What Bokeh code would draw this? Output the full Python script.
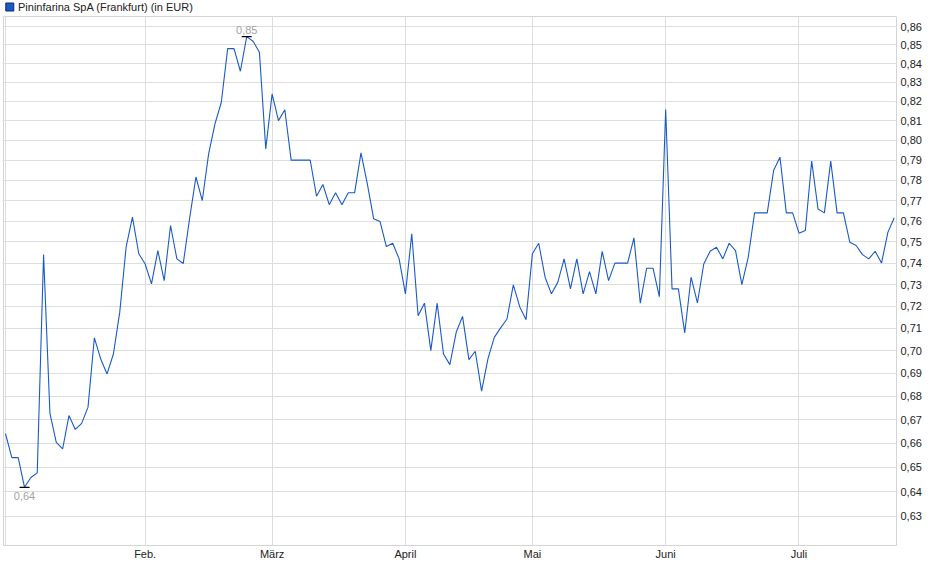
from bokeh.plotting import figure
from bokeh.layouts import column
from bokeh.models import FixedTicker, CustomJSTickFormatter, Range1d
from bokeh.core.properties import value
from bokeh.embed import file_html
from bokeh.resources import INLINE

# Daily closing prices (EUR), trading days from 2 Jan to 22 Jul
prices = [
    0.664, 0.654, 0.654, 0.6418, 0.6458, 0.6477, 0.744, 0.6726, 0.6604, 0.6576,
    0.6717, 0.6658, 0.6684, 0.6753, 0.7057, 0.6963, 0.6897, 0.6985, 0.7173, 0.7475,
    0.7619, 0.7444, 0.7396, 0.7303, 0.7459, 0.7318, 0.7579, 0.742, 0.7398, 0.7612,
    0.7816, 0.770, 0.7932, 0.8084, 0.8196, 0.848, 0.848, 0.8359, 0.8545, 0.852,
    0.8461, 0.7957, 0.824, 0.8101, 0.8157, 0.79, 0.79, 0.79, 0.79, 0.7721,
    0.7779, 0.768, 0.7738, 0.768, 0.7738, 0.7738, 0.7937, 0.7782, 0.7611, 0.7598,
    0.7478, 0.7494, 0.7421, 0.7257, 0.7539, 0.7157, 0.7214, 0.700, 0.7214, 0.6985,
    0.6938, 0.7082, 0.7154, 0.696, 0.6997, 0.6822, 0.6963, 0.7059, 0.7102, 0.7142,
    0.7298, 0.7198, 0.7139, 0.7444, 0.7494, 0.7334, 0.7257, 0.731, 0.742, 0.728,
    0.742, 0.7257, 0.736, 0.7257, 0.7456, 0.7318, 0.74, 0.74, 0.74, 0.752,
    0.7214, 0.7376, 0.7376, 0.7244, 0.8158, 0.728, 0.728, 0.7079, 0.7334, 0.7215,
    0.7396, 0.7456, 0.7475, 0.742, 0.7494, 0.7459, 0.730, 0.7427, 0.764, 0.764,
    0.764, 0.7848, 0.7915, 0.764, 0.764, 0.7542, 0.7555, 0.7895, 0.7659, 0.764,
    0.7895, 0.764, 0.764, 0.7499, 0.7483, 0.744, 0.742, 0.7456, 0.74, 0.7546,
    0.7616,
]
day_index = list(range(len(prices)))

# first trading day of each month (as trading-day index) and labels
month_ticks = [0, 22, 42, 63, 83, 104, 125]
month_labels = ["", "Feb.", "März", "April", "Mai", "Juni", "Juli"]

y_ticks = [0.63, 0.64, 0.65, 0.66, 0.67, 0.68, 0.69, 0.70, 0.71, 0.72, 0.73, 0.74,
           0.75, 0.76, 0.77, 0.78, 0.79, 0.80, 0.81, 0.82, 0.83, 0.84, 0.85, 0.86]

series_name = "Pininfarina SpA (Frankfurt) (in EUR)"

FONT = "Liberation Sans"
LINE_BLUE = "#1a5ac8"
GRID = "#dddddd"
W = 924

# ---- header strip with the legend (swatch + series name) ----
header = figure(width=W, height=16, x_range=Range1d(0, W), y_range=Range1d(16, 0),
                x_axis_location=None, y_axis_location=None, title=None,
                output_backend="svg", toolbar_location=None, min_border=0)
header.outline_line_color = None
header.background_fill_color = "white"
header.border_fill_color = "white"
header.xgrid.visible = False
header.ygrid.visible = False
header.scatter(x=[6.5], y=[6.5], marker="square", size=8, fill_color=LINE_BLUE,
               line_color="#0d2a66", line_width=1)
header.text(x=[15], y=[6.5], text=[series_name], text_baseline="middle",
            text_align="left", text_font=value(FONT), text_font_size="11px",
            text_color="#222222")

# ---- main chart ----
p = figure(width=W, height=547, y_axis_type="log", y_axis_location="right",
           x_range=Range1d(-0.314, 140.36), y_range=Range1d(0.6185, 0.86548),
           output_backend="svg", toolbar_location=None, title=None,
           min_border_left=3, min_border_right=26, min_border_top=0, min_border_bottom=18)

p.background_fill_color = "white"
p.border_fill_color = "white"
p.outline_line_color = "#d4d4d4"

p.line(day_index, prices, line_color=LINE_BLUE, line_width=1.1)

# max / min markers
i_max = max(day_index, key=lambda i: prices[i])
i_min = min(day_index, key=lambda i: prices[i])
v_max, v_min = prices[i_max], prices[i_min]
p.scatter([i_max, i_min], [v_max, v_min], marker="dash", size=10,
          line_color="black", line_width=1.3)
p.text(x=[i_max], y=[v_max], text=[f"{v_max:.2f}".replace(".", ",")],
       text_align="center", text_baseline="bottom", y_offset=-3,
       text_font=value(FONT), text_font_size="11px", text_color="#a3a3a3")
p.text(x=[i_min], y=[v_min], text=[f"{v_min:.2f}".replace(".", ",")],
       text_align="center", text_baseline="top", y_offset=5,
       text_font=value(FONT), text_font_size="11px", text_color="#a3a3a3")

# axes
xt = FixedTicker(ticks=month_ticks, minor_ticks=[])
p.xaxis.ticker = xt
p.xgrid.ticker = xt
p.xaxis.major_label_overrides = {t: l for t, l in zip(month_ticks, month_labels)}
yt = FixedTicker(ticks=y_ticks, minor_ticks=[])
p.yaxis.ticker = yt
p.ygrid.ticker = yt
p.yaxis.formatter = CustomJSTickFormatter(code="return tick.toFixed(2).replace('.', ',');")

for ax in (p.xaxis, p.yaxis):
    ax.axis_line_color = None
    ax.major_tick_line_color = None
    ax.minor_tick_line_color = None
    ax.major_tick_out = 0
    ax.major_tick_in = 0
    ax.major_label_text_font = FONT
    ax.major_label_text_font_size = "11px"
    ax.major_label_text_color = "#222222"
p.xaxis.major_label_standoff = 2
p.yaxis.major_label_standoff = 4

p.xgrid.grid_line_color = GRID
p.ygrid.grid_line_color = GRID

layout = column(header, p, spacing=0)

open("out.html", "w").write(file_html(layout, INLINE))
